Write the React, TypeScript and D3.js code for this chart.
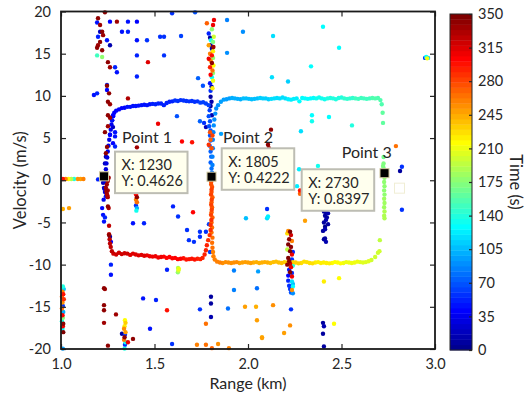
import React, { useEffect, useRef } from 'react';
import * as d3 from 'd3';

// [range (km), velocity (m/s), time (s)]
type Pt = [number, number, number];

const outboundLeg1: Pt[] = [
  [1.232, -1.0, 26], [1.235, -0.2, 27], [1.238, 0.6, 28], [1.24, 1.3, 29], [1.243, 2.0, 30], [1.247, 2.7, 31],
  [1.25, 3.4, 32], [1.254, 4.1, 33], [1.258, 4.8, 34], [1.262, 5.4, 35], [1.266, 6.0, 36], [1.27, 6.6, 37],
  [1.274, 7.1, 38], [1.279, 7.6, 39], [1.285, 8.0, 40],
  [1.295, 8.25, 41], [1.31, 8.4, 42], [1.325, 8.55, 42], [1.34, 8.6, 43], [1.355, 8.7, 44], [1.37, 8.7, 44],
  [1.385, 8.8, 45], [1.4, 8.8, 46], [1.415, 8.85, 46], [1.43, 8.9, 47], [1.445, 8.95, 48], [1.46, 8.9, 48],
  [1.475, 9.0, 49], [1.49, 9.05, 50], [1.505, 9.0, 50], [1.52, 9.1, 51], [1.535, 9.1, 52], [1.55, 8.9, 52],
  [1.565, 9.15, 53], [1.58, 9.3, 54], [1.595, 9.35, 54], [1.61, 9.45, 55], [1.625, 9.4, 56], [1.64, 9.5, 56],
  [1.655, 9.45, 57], [1.67, 9.4, 58], [1.685, 9.35, 58], [1.7, 9.4, 59], [1.715, 9.3, 60], [1.73, 9.35, 60],
  [1.745, 9.2, 61], [1.76, 9.25, 62], [1.775, 9.1, 62],
];

const stopAtPoint2: Pt[] = [
  [1.79, 8.9, 64], [1.795, 8.3, 65], [1.79, 7.6, 66], [1.797, 7.0, 67], [1.792, 6.4, 68], [1.8, 5.9, 69],
  [1.797, 5.3, 70], [1.8, 4.7, 71], [1.795, 4.1, 72], [1.8, 3.4, 73], [1.803, 2.8, 74], [1.8, 2.1, 75],
  [1.805, 1.4, 77], [1.805, 0.8, 79],
  [1.808, 0.9, 82], [1.81, 1.8, 83], [1.81, 2.8, 84], [1.812, 3.8, 85], [1.812, 4.8, 86], [1.815, 5.7, 87],
  [1.817, 6.5, 88], [1.82, 7.2, 89], [1.825, 7.9, 90], [1.83, 8.5, 91], [1.84, 8.9, 92], [1.855, 9.3, 94],
  [1.87, 9.55, 95],
];

const outboundLeg2: Pt[] = [
  [1.885, 9.6, 97], [1.9, 9.7, 98], [1.915, 9.75, 99], [1.93, 9.7, 100], [1.945, 9.65, 101], [1.96, 9.6, 102],
  [1.975, 9.7, 104], [1.99, 9.7, 105], [2.005, 9.65, 106], [2.02, 9.6, 107], [2.035, 9.65, 108], [2.05, 9.7, 109],
  [2.065, 9.75, 110], [2.08, 9.7, 111], [2.095, 9.7, 112], [2.11, 9.6, 113], [2.125, 9.65, 115], [2.14, 9.7, 116],
  [2.155, 9.75, 117], [2.17, 9.7, 118], [2.185, 9.8, 119], [2.2, 9.7, 120], [2.215, 9.6, 121], [2.23, 9.55, 122],
  [2.245, 9.65, 123], [2.26, 9.7, 124], [2.275, 9.35, 126], [2.29, 9.75, 127], [2.305, 9.7, 128], [2.32, 9.65, 129],
  [2.335, 9.7, 130], [2.35, 9.75, 131], [2.365, 9.7, 132], [2.38, 9.8, 133], [2.395, 9.7, 134], [2.41, 9.6, 135],
  [2.425, 9.7, 137], [2.44, 9.75, 138], [2.455, 9.7, 139], [2.47, 9.6, 140], [2.485, 9.75, 141], [2.5, 9.8, 142],
  [2.515, 9.7, 143], [2.53, 9.65, 144], [2.545, 9.7, 145], [2.56, 9.75, 146], [2.575, 9.7, 148], [2.59, 9.65, 149],
  [2.605, 9.75, 150], [2.62, 9.7, 151], [2.635, 9.65, 152], [2.65, 9.7, 153], [2.665, 9.75, 154], [2.68, 9.7, 155],
  [2.695, 9.75, 156],
];

const turnAtPoint3: Pt[] = [
  [2.708, 9.5, 157], [2.715, 9.0, 158], [2.72, 8.0, 160], [2.722, 6.8, 162], [2.725, 2.75, 168], [2.725, 2.0, 170],
  [2.722, 1.7, 171], [2.725, 1.45, 172], [2.728, 0.9, 174], [2.73, 0.3, 176], [2.728, -0.2, 177], [2.73, -0.7, 178],
  [2.728, -1.2, 179], [2.73, -1.7, 180], [2.728, -2.2, 181], [2.73, -2.7, 183], [2.728, -3.2, 185], [2.73, -3.7, 187],
  [2.728, -4.2, 189], [2.73, -4.5, 190], [2.705, -7.1, 196], [2.703, -8.4, 198], [2.695, -8.6, 199], [2.68, -9.1, 201],
  [2.66, -9.45, 202],
];

const returnLeg1: Pt[] = [
  [2.645, -9.6, 204], [2.63, -9.7, 205], [2.615, -9.75, 206], [2.6, -9.7, 207], [2.585, -9.65, 208], [2.57, -9.75, 209],
  [2.555, -9.8, 210], [2.54, -9.75, 211], [2.525, -9.7, 212], [2.51, -9.8, 213], [2.495, -9.85, 214], [2.48, -9.75, 216],
  [2.465, -9.7, 217], [2.45, -9.8, 218], [2.435, -9.85, 219], [2.42, -9.8, 220], [2.405, -9.75, 221], [2.39, -9.8, 222],
  [2.375, -9.7, 223], [2.36, -9.75, 224], [2.345, -9.85, 225], [2.33, -9.8, 226], [2.315, -9.7, 227], [2.3, -9.65, 228],
  [2.285, -9.8, 229], [2.27, -9.85, 230], [2.255, -9.75, 231], [2.24, -9.7, 232], [2.225, -9.8, 233], [2.21, -9.75, 234],
  [2.195, -9.7, 235], [2.18, -9.8, 236], [2.165, -9.75, 237], [2.15, -9.65, 238], [2.135, -9.7, 239], [2.12, -9.8, 240],
  [2.105, -9.75, 241], [2.09, -9.7, 242], [2.075, -9.75, 243], [2.06, -9.8, 244], [2.045, -9.7, 245], [2.03, -9.75, 246],
  [2.015, -9.8, 247], [2.0, -9.75, 248], [1.985, -9.7, 249], [1.97, -9.75, 250], [1.955, -9.8, 251], [1.94, -9.7, 252],
  [1.925, -9.75, 253], [1.91, -9.8, 254], [1.895, -9.75, 255], [1.88, -9.7, 256], [1.865, -9.8, 257], [1.85, -9.75, 258],
  [1.835, -9.65, 259],
];

const returnStop: Pt[] = [
  [1.822, -9.4, 260], [1.815, -9.0, 261], [1.813, -8.5, 262], [1.81, -8.0, 263], [1.808, -7.4, 264], [1.81, -6.8, 265],
  [1.805, -6.2, 266], [1.808, -5.6, 267], [1.805, -5.0, 268], [1.81, -4.4, 269], [1.805, -3.8, 270], [1.808, -3.2, 271],
  [1.805, -2.6, 272], [1.81, -2.0, 273], [1.805, -1.4, 274], [1.808, -0.8, 275], [1.803, -0.2, 276],
  [1.803, -0.5, 278], [1.805, -1.1, 279], [1.802, -1.7, 280], [1.806, -2.3, 281], [1.803, -2.9, 282], [1.806, -3.5, 283],
  [1.802, -4.1, 284], [1.804, -4.7, 285], [1.8, -5.3, 286], [1.8, -5.9, 287], [1.795, -6.5, 288], [1.787, -7.1, 289],
  [1.78, -7.7, 290], [1.775, -8.3, 291], [1.768, -8.8, 292], [1.757, -9.2, 293],
];

const returnLeg2: Pt[] = [
  [1.745, -9.35, 294], [1.73, -9.3, 295], [1.715, -9.4, 296], [1.7, -9.3, 297], [1.685, -9.35, 298], [1.67, -9.4, 299],
  [1.655, -9.25, 300], [1.64, -9.3, 301], [1.625, -9.35, 302], [1.61, -9.2, 303], [1.595, -9.25, 303], [1.58, -9.1, 304],
  [1.565, -9.2, 305], [1.55, -9.05, 306], [1.535, -9.1, 307], [1.52, -9.15, 308], [1.505, -9.0, 309], [1.49, -9.05, 310],
  [1.475, -9.0, 311], [1.46, -8.9, 311], [1.445, -8.95, 312], [1.43, -8.85, 313], [1.415, -8.9, 314], [1.4, -8.8, 315],
  [1.385, -8.7, 316], [1.37, -8.85, 317], [1.355, -8.7, 318], [1.34, -8.65, 319], [1.325, -8.75, 319], [1.31, -8.6, 320],
  [1.295, -8.8, 321], [1.28, -8.7, 322],
  [1.272, -8.4, 323], [1.266, -7.9, 324], [1.262, -7.5, 325], [1.26, -7.0, 326], [1.257, -6.4, 327], [1.257, -5.4, 328],
  [1.255, -3.3, 330], [1.25, -2.0, 331], [1.245, -1.6, 332], [1.25, -1.2, 333], [1.24, -0.9, 334], [1.245, -0.5, 335],
  [1.25, -0.1, 336], [1.255, 0.3, 337], [1.248, -1.8, 333], [1.243, -1.3, 338],
];

const clutterPoints: Pt[] = [
  // stationary returns near 1.0 km
  [1.01, 0.15, 300], [1.025, 0.15, 258], [1.04, 0.15, 215], [1.055, 0.15, 190], [1.07, 0.15, 140], [1.09, 0.15, 255],
  [1.105, 0.15, 250], [1.12, 0.15, 262], [1.198, 0.1, 50], [1.01, -3.4, 245], [1.043, -3.3, 250],
  [1.01, -12.6, 140], [1.015, -12.9, 110], [1.008, -13.2, 260], [1.012, -13.5, 300], [1.005, -13.8, 270],
  [1.015, -14.1, 285], [1.008, -14.5, 255], [1.01, -14.9, 60], [1.005, -15.2, 265], [1.012, -15.6, 100],
  [1.008, -16.0, 305], [1.01, -16.3, 170], [1.005, -16.7, 140], [1.012, -17.0, 340], [1.01, -17.3, 310],
  [1.008, -17.6, 130], [1.012, -18.0, 345], [1.01, -19.95, 95],
  // returns along 1.2-1.3 km
  [1.235, 19.9, 342], [1.198, 19.2, 340], [1.209, 18.4, 338], [1.22, 17.6, 341], [1.225, 17.2, 339], [1.209, 16.4, 343],
  [1.198, 16.0, 338], [1.193, 15.7, 340], [1.22, 15.4, 344], [1.251, 14.0, 341], [1.262, 13.4, 339], [1.246, 11.2, 343],
  [1.257, 10.3, 340], [1.251, 9.3, 342], [1.262, 9.0, 338], [1.251, 7.7, 341], [1.262, 7.4, 339], [1.246, 3.95, 343],
  [1.24, 3.2, 340], [1.235, 5.7, 341], [1.251, 6.4, 338], [1.193, 14.8, 150], [1.22, 14.6, 175],
  [1.193, 18.7, 45], [1.209, 17.6, 20], [1.198, 17.0, 50], [1.246, 16.6, 45], [1.262, 18.8, 40], [1.262, 16.0, 15],
  [1.289, 13.4, 50], [1.299, 12.8, 45], [1.246, 11.3, 50], [1.246, 10.7, 40], [1.176, 10.1, 45], [1.193, 10.3, 50],
  [1.278, 7.7, 40], [1.273, 7.1, 45], [1.278, 6.3, 20], [1.289, 5.7, 45], [1.262, 5.4, 40], [1.289, 5.2, 45],
  [1.278, 4.4, 40], [1.289, 4.0, 50], [1.24, 2.8, 15], [1.235, 2.0, 20], [1.225, -0.3, 20], [1.23, -0.9, 25],
  [1.235, -1.4, 30], [1.24, -1.9, 45], [1.228, -2.3, 35], [1.22, -3.3, 40], [1.225, -4.1, 45], [1.23, -4.9, 45],
  [1.235, -4.4, 50],
  // scattered, upper half
  [1.358, 18.8, 45], [1.406, 18.8, 40], [1.326, 17.6, 45], [1.358, 17.6, 50], [1.406, 16.6, 45], [1.46, 16.6, 55],
  [1.53, 17.0, 55], [1.551, 17.0, 60], [1.642, 17.1, 65], [1.406, 14.8, 50], [1.551, 14.8, 60], [1.406, 12.3, 50],
  [1.594, 19.8, 60], [1.717, 19.9, 70], [1.62, 7.6, 70], [1.743, 7.0, 75], [1.765, 6.8, 60], [1.775, 6.3, 20],
  [1.759, 11.2, 70], [1.733, 12.1, 75], [1.888, 19.0, 85], [1.888, 15.1, 90], [1.856, 5.5, 95], [1.973, 17.6, 90],
  [1.519, 6.7, 310], [1.647, 4.6, 305], [1.701, 4.5, 300], [1.465, 14.0, 315], [1.358, 9.7, 330], [1.299, 18.8, 335],
  [1.406, 3.9, 335], [1.406, 3.2, 310],
  [2.134, 17.1, 120], [2.401, 18.2, 130], [2.487, 15.7, 130], [2.337, 13.5, 130], [2.128, 12.2, 115], [2.214, 11.7, 110],
  [2.342, 7.7, 130], [2.342, 7.0, 135], [2.433, 7.5, 130], [2.556, 6.5, 140], [2.283, 5.8, 120],
  [2.947, 14.5, 60], [2.958, 14.45, 210], [2.963, 14.5, 110], [2.953, 14.6, 130],
  [2.791, 4.05, 265], [2.823, 1.6, 60], [2.813, 1.1, 10], [2.374, 1.7, 135], [2.273, 1.3, 125], [2.262, -0.7, 125],
  [2.123, 6.0, 340], [2.107, 4.2, 340], [2.112, 3.8, 330], [2.278, -1.2, 300], [2.278, -1.6, 270],
  // multi-coloured column at 1.8 km
  [1.813, 18.4, 310], [1.807, 17.9, 180], [1.79, 17.4, 50], [1.797, 16.9, 10], [1.802, 16.6, 135], [1.813, 16.4, 170],
  [1.8, 16.0, 12], [1.807, 15.6, 10], [1.813, 15.3, 220], [1.797, 15.0, 260], [1.807, 14.8, 300], [1.813, 14.5, 180],
  [1.8, 14.2, 255], [1.807, 13.9, 340], [1.815, 13.6, 215], [1.797, 13.4, 295], [1.81, 13.0, 265], [1.813, 12.7, 175],
  [1.8, 12.5, 305], [1.807, 12.2, 130], [1.813, 11.8, 210], [1.797, 11.5, 45], [1.805, 11.1, 15], [1.81, 10.9, 220],
  [1.8, 10.6, 60], [1.79, 16.0, 250], [1.817, 17.0, 200], [1.79, 14.4, 310], [1.815, 15.8, 335], [1.818, 19.0, 310],
  [1.78, 18.6, 270], [1.8, 9.9, 10], [1.805, 9.3, 12], [1.8, 8.8, 10], [1.807, 7.7, 15],
  [1.797, 5.7, 275], [1.81, 5.3, 280], [1.8, 4.8, 270], [1.79, 4.2, 285], [1.805, 3.8, 275],
  // scattered, lower half
  [1.251, -3.1, 340], [1.257, -6.5, 340], [1.262, -6.7, 15], [1.267, -7.3, 40], [1.267, -10.0, 50], [1.267, -11.2, 45],
  [1.23, -12.8, 340], [1.235, -12.9, 338], [1.23, -14.8, 342], [1.23, -15.4, 340], [1.23, -16.9, 339], [1.251, -19.6, 341],
  [1.294, -15.9, 335], [1.385, -5.1, 45], [1.444, -5.1, 50], [1.439, -14.0, 45], [1.508, -14.2, 50], [1.476, -17.6, 45],
  [1.567, -15.4, 300], [1.706, -3.8, 305], [1.599, -3.1, 50], [1.626, -4.3, 55], [1.567, -10.6, 50], [1.674, -5.9, 55],
  [1.684, -7.1, 60], [1.743, -6.1, 55], [1.775, -6.1, 60], [1.791, -5.2, 65], [1.711, -7.3, 60], [1.743, -6.7, 55],
  [1.797, -8.5, 65], [1.626, -10.4, 190], [1.628, -10.7, 200], [1.625, -10.9, 175], [1.63, -10.5, 210],
  [1.594, -19.4, 55], [1.727, -19.5, 260], [1.775, -19.5, 265], [1.84, -19.4, 255], [1.807, -19.9, 270], [1.898, -19.9, 260],
  [1.802, -13.8, 10], [1.802, -14.6, 10], [1.802, -16.2, 12], [1.775, -17.0, 265], [1.743, -15.3, 55],
  [1.893, -15.2, 80], [1.925, -13.0, 85], [1.925, -10.7, 85], [1.984, -15.0, 250], [2.043, -15.0, 245],
  [2.048, -16.6, 250], [2.075, -18.6, 245], [1.989, -4.5, 105], [2.102, -4.5, 115], [2.054, -10.8, 95], [2.048, -12.8, 80],
  [2.102, -3.4, 60], [2.107, -4.3, 125], [2.305, -4.8, 250], [2.823, -3.5, 55],
  [1.401, -1.7, 305], [1.406, -2.0, 340], [1.401, -2.3, 260], [1.406, -2.6, 265], [1.401, -3.0, 60], [1.406, -3.3, 100],
  [1.403, -3.6, 135], [1.403, -1.2, 300],
  [1.342, -16.6, 215], [1.345, -16.9, 235], [1.34, -17.3, 220], [1.337, -17.6, 255], [1.345, -18.0, 250], [1.342, -18.3, 60],
  [1.34, -18.6, 340], [1.337, -18.9, 260], [1.345, -19.2, 135], [1.342, -19.5, 55], [1.34, -19.95, 140],
  [1.326, -18.2, 10], [1.385, -18.8, 340], [1.358, -19.2, 310],
  // dark blue column near 2.41 km
  [2.406, -3.7, 8], [2.417, -3.8, 10], [2.428, -3.9, 12], [2.412, -4.2, 8], [2.422, -4.4, 10], [2.417, -4.7, 14],
  [2.406, -5.0, 10], [2.428, -5.2, 8], [2.412, -5.5, 5], [2.412, -5.8, 12], [2.401, -6.0, 10], [2.412, -6.9, 8],
  [2.406, -7.0, 10], [2.417, -7.3, 12],
  [2.401, -16.9, 10], [2.406, -17.3, 12], [2.401, -18.2, 10], [2.406, -19.7, 8],
  [2.46, -17.0, 215], [2.406, -12.0, 220], [2.487, -11.6, 215],
  [2.134, -14.8, 255], [2.23, -15.3, 55], [2.225, -17.2, 255], [2.193, -18.1, 250], [2.075, -18.7, 250],
  // multi-coloured column at 2.23 km
  [2.215, -6.0, 255], [2.21, -6.3, 225], [2.225, -6.1, 345], [2.23, -6.5, 320], [2.22, -7.0, 340], [2.235, -7.2, 260],
  [2.215, -7.6, 345], [2.23, -7.9, 340], [2.21, -8.2, 195], [2.225, -8.4, 345], [2.235, -8.8, 310], [2.24, -8.5, 50],
  [2.215, -9.2, 345], [2.22, -9.6, 340], [2.225, -9.9, 320], [2.235, -9.4, 55], [2.21, -10.0, 340], [2.24, -10.1, 140],
  [2.23, -10.3, 310], [2.22, -10.6, 45], [2.225, -10.9, 345], [2.235, -11.0, 60], [2.215, -11.3, 40], [2.235, -11.4, 310],
  [2.215, -11.9, 50], [2.235, -12.0, 120], [2.24, -12.3, 100], [2.22, -12.5, 55], [2.24, -12.6, 130], [2.225, -12.9, 60],
  [2.235, -13.0, 255], [2.23, -13.3, 70], [2.24, -13.4, 90],
];

const xTicks = [1.0, 1.5, 2.0, 2.5, 3.0];
const yTicks = [-20, -15, -10, -5, 0, 5, 10, 15, 20];
const timeTicks = [0, 35, 70, 105, 140, 175, 210, 245, 280, 315, 350];

const dataTips = [
  { label: 'Point 1', range: 1230, velocity: 0.4626 },
  { label: 'Point 2', range: 1805, velocity: 0.4222 },
  { label: 'Point 3', range: 2730, velocity: 0.8397 },
];
// offsets of text box / label from the marker (px)
const tipLayout = [
  { box: [11, -24.7], label: [18, -33.4] },
  { box: [10.2, -28.4], label: [11.5, -33.7] },
  { box: [-82.8, -3.9], label: [-42.8, -15.2] },
];

const FONT = 'Lato, "Open Sans", sans-serif';
const INK = '#262626';

function jetColormap(m: number): string[] {
  const n = Math.ceil(m / 4);
  const u: number[] = [];
  for (let i = 1; i <= n; i++) u.push(i / n);
  for (let i = 1; i < n; i++) u.push(1);
  for (let i = n; i >= 1; i--) u.push(i / n);
  const gStart = Math.ceil(n / 2) - (m % 4 === 1 ? 1 : 0);
  const rgb = Array.from({ length: m }, () => [0, 0, 0]);
  u.forEach((val, k) => {
    const g = gStart + k + 1;
    const r = g + n;
    const b = g - n;
    if (r >= 1 && r <= m) rgb[r - 1][0] = val;
    if (g >= 1 && g <= m) rgb[g - 1][1] = val;
    if (b >= 1 && b <= m) rgb[b - 1][2] = val;
  });
  return rgb.map(([r, g, b]) => d3.rgb(r * 255, g * 255, b * 255).formatHex());
}

export default function App() {
  const svgRef = useRef<SVGSVGElement>(null);

  useEffect(() => {
    if (!svgRef.current) return;
    const width = 531;
    const height = 397;
    const plot = { left: 61, right: 435, top: 11.5, bottom: 349 };
    const bar = { left: 450, width: 22, top: 14, bottom: 350 };

    const svg = d3.select(svgRef.current);
    svg.selectAll('*').remove();
    svg.attr('width', width).attr('height', height);
    svg.append('rect').attr('width', width).attr('height', height).attr('fill', '#fff');

    const x = d3.scaleLinear().domain([1, 3]).range([plot.left, plot.right]);
    const y = d3.scaleLinear().domain([-20, 20]).range([plot.bottom, plot.top]);
    const jet = jetColormap(64);
    const color = d3.scaleQuantize<string>().domain([0, 350]).range(jet);

    // scatter
    const points = [
      ...clutterPoints, ...outboundLeg1, ...stopAtPoint2, ...outboundLeg2,
      ...turnAtPoint3, ...returnLeg1, ...returnStop, ...returnLeg2,
    ].sort((a, b) => a[2] - b[2]);

    svg.append('g')
      .selectAll('circle')
      .data(points)
      .enter()
      .append('circle')
      .attr('cx', (d) => x(d[0]))
      .attr('cy', (d) => y(d[1]))
      .attr('r', 2.2)
      .attr('fill', (d) => color(d[2]));

    // axes (ticks pointing inward)
    const styleAxis = (g: d3.Selection<SVGGElement, unknown, null, undefined>) => {
      g.select('.domain').remove();
      g.selectAll('line').attr('stroke', INK).attr('stroke-width', 1.2);
      g.selectAll('text').attr('fill', INK).attr('font-size', 14.5).attr('font-family', FONT);
    };
    svg.append('g')
      .attr('transform', `translate(0,${plot.bottom})`)
      .call(d3.axisBottom(x).tickValues(xTicks).tickFormat((d) => d3.format('.1f')(d as number)).tickSize(-5).tickPadding(10))
      .call(styleAxis);
    svg.append('g')
      .attr('transform', `translate(0,${plot.top})`)
      .call(d3.axisTop(x).tickValues(xTicks).tickFormat(() => '').tickSize(-5))
      .call(styleAxis);
    svg.append('g')
      .attr('transform', `translate(${plot.left},0)`)
      .call(d3.axisLeft(y).tickValues(yTicks).tickFormat((d) => String(d)).tickSize(-5).tickPadding(10))
      .call(styleAxis);
    svg.append('g')
      .attr('transform', `translate(${plot.right},0)`)
      .call(d3.axisRight(y).tickValues(yTicks).tickFormat(() => '').tickSize(-5))
      .call(styleAxis);

    svg.append('rect')
      .attr('x', plot.left)
      .attr('y', plot.top)
      .attr('width', plot.right - plot.left)
      .attr('height', plot.bottom - plot.top)
      .attr('fill', 'none')
      .attr('stroke', '#1a1a1a')
      .attr('stroke-width', 1.8);

    svg.append('text')
      .attr('x', (plot.left + plot.right) / 2)
      .attr('y', 389)
      .attr('text-anchor', 'middle')
      .attr('fill', INK)
      .attr('font-size', 16)
      .attr('font-family', FONT)
      .text('Range (km)');

    svg.append('text')
      .attr('transform', `translate(26,${(plot.top + plot.bottom) / 2}) rotate(-90)`)
      .attr('text-anchor', 'middle')
      .attr('fill', INK)
      .attr('font-size', 16.5)
      .attr('font-family', FONT)
      .text('Velocity (m/s)');

    // data tips
    dataTips.forEach((tip, i) => {
      const mx = x(tip.range / 1000);
      const my = y(tip.velocity);
      const lay = tipLayout[i];
      const g = svg.append('g').attr('font-family', FONT).attr('fill', INK);
      g.append('rect')
        .attr('x', mx - 4.5)
        .attr('y', my - 4.5)
        .attr('width', 9)
        .attr('height', 9)
        .attr('fill', '#000')
        .attr('stroke', '#cfc59c')
        .attr('stroke-width', 1);
      const bx = mx + lay.box[0];
      const by = my + lay.box[1];
      g.append('rect')
        .attr('x', bx)
        .attr('y', by)
        .attr('width', 72.5)
        .attr('height', 41.5)
        .attr('fill', '#ffffee')
        .attr('stroke', '#bdbdb3')
        .attr('stroke-width', 2);
      g.append('text').attr('x', bx + 6.5).attr('y', by + 18.3).attr('font-size', 14.5).text(`X: ${tip.range}`);
      g.append('text').attr('x', bx + 6.5).attr('y', by + 34.7).attr('font-size', 14.5).text(`Y: ${tip.velocity}`);
      g.append('text')
        .attr('x', mx + lay.label[0])
        .attr('y', my + lay.label[1])
        .attr('font-size', 16)
        .text(tip.label);
      if (i === 2) {
        g.append('rect')
          .attr('x', mx + 10)
          .attr('y', my + 10)
          .attr('width', 10)
          .attr('height', 10)
          .attr('fill', '#fff')
          .attr('stroke', '#f0eed4')
          .attr('stroke-width', 1);
      }
    });

    // colorbar
    const c = d3.scaleLinear().domain([0, 350]).range([bar.bottom, bar.top]);
    const step = 350 / jet.length;
    svg.append('g')
      .selectAll('rect')
      .data(jet)
      .enter()
      .append('rect')
      .attr('x', bar.left)
      .attr('width', bar.width)
      .attr('y', (_, i) => c((i + 1) * step))
      .attr('height', (_, i) => c(i * step) - c((i + 1) * step) + 0.4)
      .attr('fill', (d) => d);
    svg.append('rect')
      .attr('x', bar.left)
      .attr('y', bar.top)
      .attr('width', bar.width)
      .attr('height', bar.bottom - bar.top)
      .attr('fill', 'none')
      .attr('stroke', INK)
      .attr('stroke-width', 1);
    svg.append('g')
      .attr('transform', `translate(${bar.left + bar.width},0)`)
      .call(d3.axisRight(c).tickValues(timeTicks).tickFormat((d) => String(d)).tickSize(-3).tickPadding(6))
      .call(styleAxis);
    svg.append('text')
      .attr('transform', `translate(510,${(bar.top + bar.bottom) / 2}) rotate(90)`)
      .attr('text-anchor', 'middle')
      .attr('fill', INK)
      .attr('font-size', 16.5)
      .attr('font-family', FONT)
      .text('Time (s)');
  }, []);

  return <svg ref={svgRef} style={{ position: 'absolute', left: 0, top: 0, display: 'block' }} />;
}
